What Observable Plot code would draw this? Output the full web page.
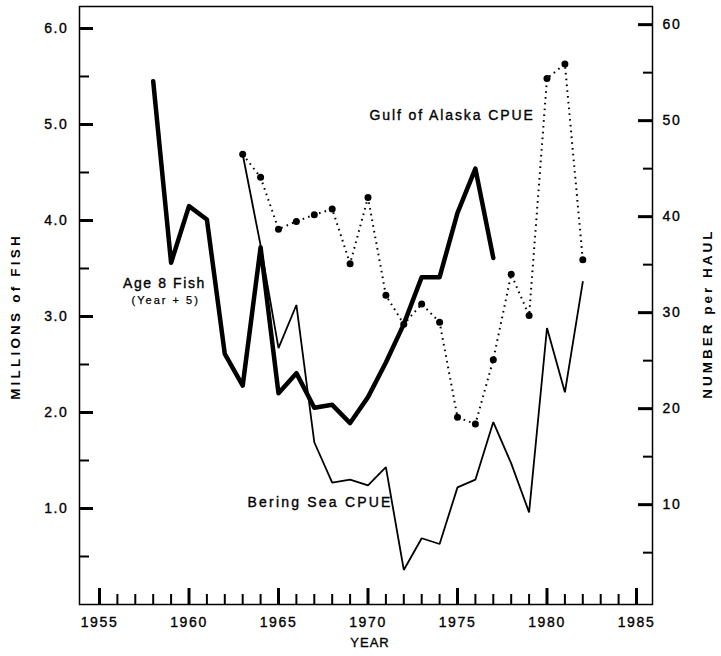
<!DOCTYPE html>
<html>
<head>
<meta charset="utf-8">
<script src="https://cdn.jsdelivr.net/npm/d3@7"></script>
<script src="https://cdn.jsdelivr.net/npm/@observablehq/plot@0.6"></script>
<style>
  body { margin: 0; background: #fff; }
  #chart svg { display: block; }
</style>
</head>
<body>
<div id="chart"></div>
<script>
// Age 8 pollock abundance (millions of fish), plotted at brood year + 5
const age8Years = [1958, 1959, 1960, 1961, 1962, 1963, 1964, 1965, 1966, 1967,
                   1968, 1969, 1970, 1971, 1972, 1973, 1974, 1975, 1976, 1977];
const age8Millions = [5.45, 3.56, 4.15, 4.01, 2.61, 2.28, 3.72, 2.20, 2.41, 2.05,
                      2.08, 1.89, 2.16, 2.52, 2.92, 3.41, 3.41, 4.08, 4.54, 3.61];

// Survey catch per unit effort (number per haul)
const cpueYears = [1963, 1964, 1965, 1966, 1967, 1968, 1969, 1970, 1971, 1972,
                   1973, 1974, 1975, 1976, 1977, 1978, 1979, 1980, 1981, 1982];
const beringCpue = [46.5, 37.0, 26.3, 30.8, 16.5, 12.3, 12.6, 12.0, 13.9, 3.2,
                    6.5, 5.9, 11.8, 12.6, 18.6, 14.3, 9.2, 28.4, 21.7, 33.2];
const gulfCpue = [46.5, 44.1, 38.7, 39.5, 40.2, 40.8, 35.1, 42.0, 31.8, 28.8,
                  30.9, 29.0, 19.1, 18.4, 25.1, 34.0, 29.7, 54.4, 55.9, 35.5];

// Axis ticks
const yearTicks = [1955, 1956, 1957, 1958, 1959, 1960, 1961, 1962, 1963, 1964, 1965,
                   1966, 1967, 1968, 1969, 1970, 1971, 1972, 1973, 1974, 1975,
                   1976, 1977, 1978, 1979, 1980, 1981, 1982, 1983, 1984, 1985];
const yearLabels = [1955, 1960, 1965, 1970, 1975, 1980, 1985];
const leftMajorTicks = [1, 2, 3, 4, 5, 6];
const leftMinorTicks = [0.5, 1.5, 2.5, 3.5, 4.5, 5.5];
const rightMajorTicks = [10, 20, 30, 40, 50, 60];
const rightMinorTicks = [5, 15, 25, 35, 45, 55];

// The NUMBER per HAUL axis shares the frame: 10 per haul = 1 million fish,
// with its zero drawn a little above the left-hand zero.
const perHaul = v => v / 10 + 0.04;

const age8 = age8Years.map((year, i) => ({year, value: age8Millions[i]}));
const bering = cpueYears.map((year, i) => ({year, value: perHaul(beringCpue[i])}));
const gulf = cpueYears.map((year, i) => ({year, value: perHaul(gulfCpue[i])}));

const majorYears = yearTicks.filter(y => y % 5 === 0);
const minorYears = yearTicks.filter(y => y % 5 !== 0);

const blank = () => "";
// a hairline outline thickens the type slightly
const ink = {stroke: "#000", strokeWidth: 0.35, fill: "#000"};

const chart = Plot.plot({
  width: 721,
  height: 656,
  marginLeft: 79,
  marginRight: 69,
  marginTop: 6,
  marginBottom: 52,
  style: {
    fontFamily: "'Liberation Sans', Arial, sans-serif",
    fontSize: "14px",
    color: "#000",
    background: "#fff"
  },
  x: {domain: [1953.883, 1985.894], label: null},
  y: {domain: [0, 6.229], label: null},
  marks: [
    Plot.frame({stroke: "#000", strokeWidth: 1.5}),

    // inward tick marks
    Plot.axisX(majorYears, {anchor: "bottom", tickSize: -16, strokeWidth: 3, tickFormat: blank, label: null}),
    Plot.axisX(minorYears, {anchor: "bottom", tickSize: -10, strokeWidth: 2, tickFormat: blank, label: null}),
    Plot.axisY(leftMajorTicks, {anchor: "left", tickSize: -14, strokeWidth: 3, tickFormat: blank, label: null}),
    Plot.axisY(leftMinorTicks, {anchor: "left", tickSize: -10, strokeWidth: 2, tickFormat: blank, label: null}),
    Plot.axisY(rightMajorTicks.map(perHaul), {anchor: "right", tickSize: -15, strokeWidth: 3, tickFormat: blank, label: null}),
    Plot.axisY(rightMinorTicks.map(perHaul), {anchor: "right", tickSize: -10, strokeWidth: 2, tickFormat: blank, label: null}),

    // tick labels
    Plot.text(yearLabels, {x: d => d, frameAnchor: "bottom", dy: 22, text: d => String(d), ...ink, ariaDescription: "tick-labels"}),
    Plot.text(leftMajorTicks, {y: d => d, frameAnchor: "left", dx: -11, textAnchor: "end", text: d => d.toFixed(1), ...ink, ariaDescription: "tick-labels"}),
    Plot.text(rightMajorTicks, {y: perHaul, frameAnchor: "right", dx: 10, textAnchor: "start", text: d => String(d), ...ink, ariaDescription: "tick-labels"}),

    // axis titles (rotated, set just outside the frame)
    Plot.text(["MILLIONS of FISH"], {x: 1950.31, y: 3.0, rotate: -90, fontWeight: "bold", fontSize: 13.5, ariaDescription: "title-left"}),
    Plot.text(["NUMBER per HAUL"], {x: 1988.97, y: 3.03, rotate: -90, fontWeight: "bold", fontSize: 13.5, ariaDescription: "title-right"}),
    Plot.text(["YEAR"], {frameAnchor: "bottom", dx: 4, dy: 42, fontSize: 13, ...ink, ariaDescription: "year-title"}),

    // series
    Plot.line(bering, {x: "year", y: "value", stroke: "#000", strokeWidth: 1.8, strokeLinejoin: "miter"}),
    Plot.line(gulf, {x: "year", y: "value", stroke: "#000", strokeWidth: 2, strokeDasharray: "1.6,4.2", strokeLinecap: "butt"}),
    Plot.dot(gulf, {x: "year", y: "value", r: 3.5, fill: "#000", stroke: "none"}),
    Plot.line(age8, {x: "year", y: "value", stroke: "#000", strokeWidth: 4.5, strokeLinejoin: "round"}),

    // series labels
    Plot.text(["Age 8 Fish"], {x: 1958.63, y: 3.30, lineAnchor: "bottom", fontSize: 14, ...ink, ariaDescription: "label-age"}),
    Plot.text(["(Year + 5)"], {x: 1958.7, y: 3.125, lineAnchor: "bottom", fontSize: 11, ...ink, strokeWidth: 0.25, ariaDescription: "label-small"}),
    Plot.text(["Gulf of Alaska CPUE"], {x: 1970.08, y: 5.05, textAnchor: "start", lineAnchor: "bottom", fontSize: 14, ...ink, ariaDescription: "label-gulf"}),
    Plot.text(["Bering Sea CPUE"], {x: 1963.27, y: 1.02, textAnchor: "start", lineAnchor: "bottom", fontSize: 14, ...ink, ariaDescription: "label-bering"})
  ]
});

// letter spacing of the typeset labels
const spacing = {
  "tick-labels": "1.6px",
  "title-left": "3.2px",
  "title-right": "3px",
  "year-title": "1px",
  "label-age": "1.6px",
  "label-small": "2px",
  "label-gulf": "1.9px",
  "label-bering": "2.2px"
};
for (const [key, value] of Object.entries(spacing)) {
  chart.querySelectorAll(`[aria-description="${key}"]`).forEach(g => g.style.letterSpacing = value);
}

document.getElementById("chart").append(chart);
</script>
</body>
</html>
